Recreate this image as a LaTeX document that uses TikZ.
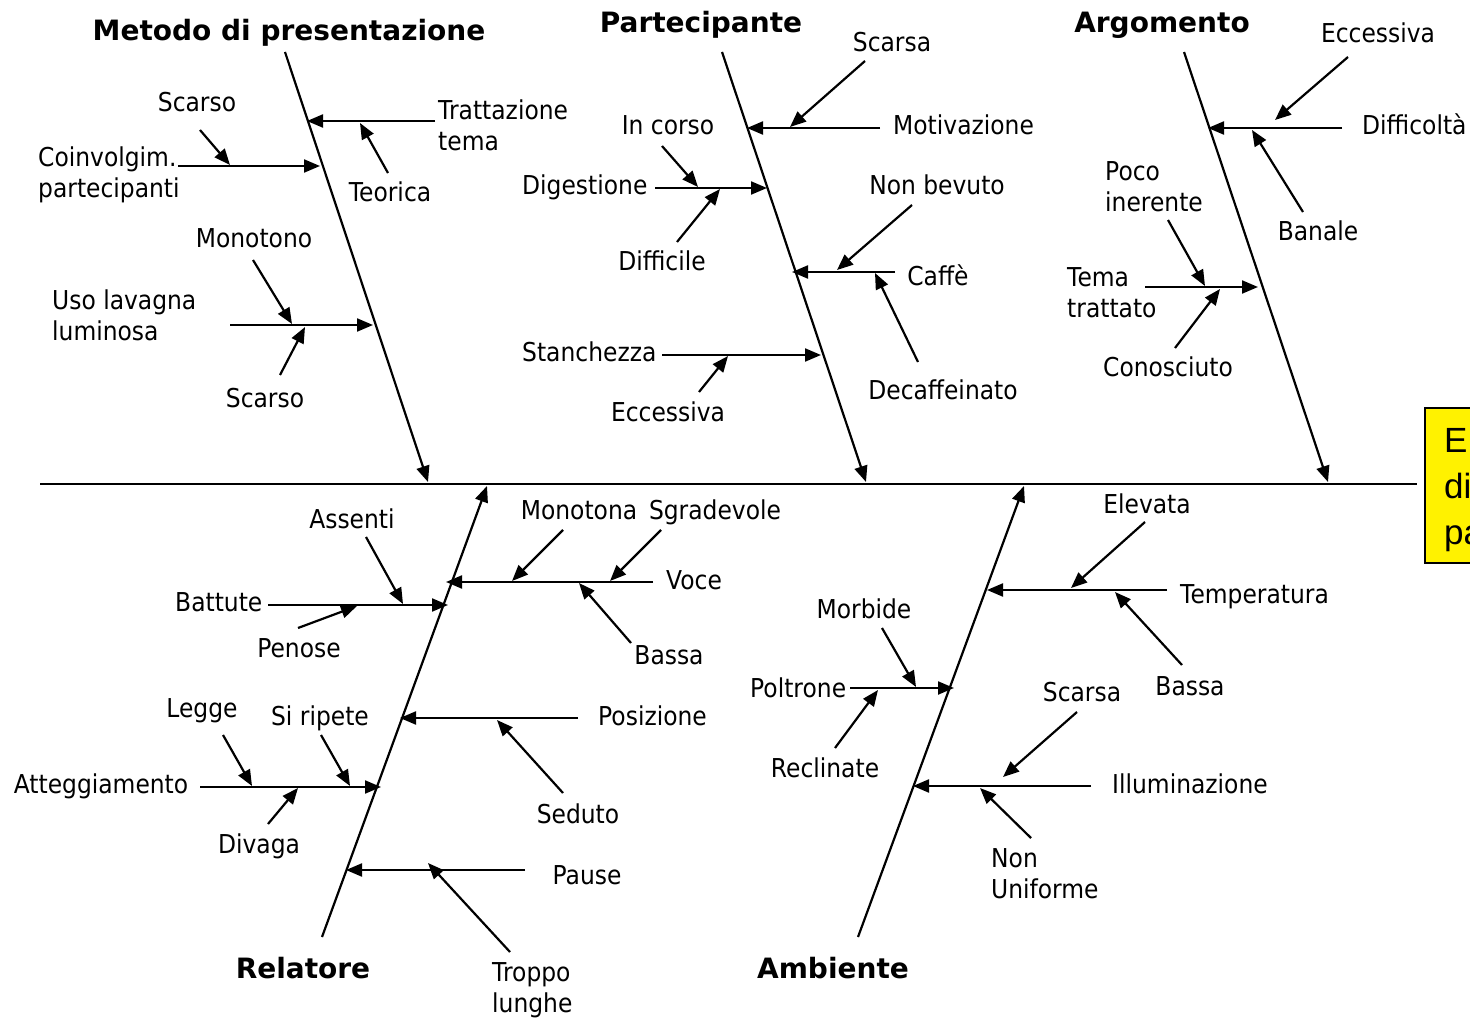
\documentclass[tikz,border=0pt]{standalone}
\usepackage{fontspec}
\setmainfont{DejaVu Sans}[FakeStretch=0.9]
\newfontfamily\headfont{DejaVu Sans}
\newfontfamily\boxfont{Liberation Sans}
\usetikzlibrary{arrows.meta}

\tikzset{
  lbl/.style={font=\fontsize{26}{31}\selectfont, inner sep=0pt},
  head/.style={font=\headfont\bfseries\fontsize{28}{32}\selectfont, inner sep=0pt},
  spine/.style={line width=2.2pt},
  bone/.style={line width=2.2pt, -{Triangle[length=16pt,width=13pt]}},
  arr/.style={line width=2.2pt, -{Triangle[length=16pt,width=13pt]}},
  effect/.style={fill=yellow, draw=black, line width=1.5pt},
  efftext/.style={font=\boxfont\fontsize{35}{46}\selectfont, inner sep=0pt, align=left},
}

\begin{document}
\begin{tikzpicture}[x=1pt, y=-1pt]
\useasboundingbox (0,0) rectangle (1470,1024);
\clip (0,0) rectangle (1470,1024);
\fill[white] (0,0) rectangle (1470,1024);

% ---------- effect box and main spine ----------
\draw[effect] (1425,408) rectangle (1520,563);
\node[efftext, anchor=north west] (effect) at (1444,428) {E\\di\\pa};
\coordinate (sp-l) at (40,484);
\coordinate (sp-r) at (1417,484);
\draw[spine] (sp-l) -- (sp-r);

% ---------- main bones ----------
\coordinate (b1-a) at (285,52);   \coordinate (b1-b) at (428,482);
\coordinate (b2-a) at (722,52);   \coordinate (b2-b) at (866,482);
\coordinate (b3-a) at (1184,52);  \coordinate (b3-b) at (1328,482);
\coordinate (b4-a) at (322,937);  \coordinate (b4-b) at (487,486);
\coordinate (b5-a) at (858,937);  \coordinate (b5-b) at (1024,486);
\draw[bone] (b1-a) -- (b1-b);
\draw[bone] (b2-a) -- (b2-b);
\draw[bone] (b3-a) -- (b3-b);
\draw[bone] (b4-a) -- (b4-b);
\draw[bone] (b5-a) -- (b5-b);

% ---------- category titles ----------
\node[head, anchor=base] (t-metodo) at (289,41) {Metodo di presentazione};
\node[head, anchor=base] (t-part)   at (701,33) {Partecipante};
\node[head, anchor=base] (t-arg)    at (1162,33) {Argomento};
\node[head, anchor=base] (t-rel)    at (303,978) {Relatore};
\node[head, anchor=base] (t-amb)    at (833,978) {Ambiente};

% ---------- Metodo di presentazione ----------
\node[lbl, anchor=north west, align=left] (l-tratt) at (438,100) {Trattazione\\tema};
\node[lbl, anchor=base] (l-teorica) at (390,202) {Teorica};
\node[lbl, anchor=base] (l-scarso1) at (197,112) {Scarso};
\node[lbl, anchor=north west, align=left] (l-coinv) at (38,147) {Coinvolgim.\\partecipanti};
\node[lbl, anchor=base] (l-monotono) at (254,248) {Monotono};
\node[lbl, anchor=north west, align=left] (l-uso) at (52,290) {Uso lavagna\\luminosa};
\node[lbl, anchor=base] (l-scarso2) at (265,407) {Scarso};

\coordinate (tratt-s) at (435,121);  \coordinate (tratt-t) at (307,121);
\coordinate (coinv-s) at (178,166);  \coordinate (coinv-t) at (320,166);
\coordinate (uso-s) at (230,325);    \coordinate (uso-t) at (373,325);
\coordinate (teor-s) at (388,173);   \coordinate (teor-t) at (360,123);
\coordinate (sc1-s) at (200,130);    \coordinate (sc1-t) at (230,165);
\coordinate (mono-s) at (253,260);   \coordinate (mono-t) at (292,324);
\coordinate (sc2-s) at (280,375);    \coordinate (sc2-t) at (305,327);
\draw[arr] (tratt-s) -- (tratt-t);
\draw[arr] (coinv-s) -- (coinv-t);
\draw[arr] (uso-s) -- (uso-t);
\draw[arr] (teor-s) -- (teor-t);
\draw[arr] (sc1-s) -- (sc1-t);
\draw[arr] (mono-s) -- (mono-t);
\draw[arr] (sc2-s) -- (sc2-t);

% ---------- Partecipante ----------
\node[lbl, anchor=base] (l-scarsa1) at (892,52) {Scarsa};
\node[lbl, anchor=base west] (l-motiv) at (893,135) {Motivazione};
\node[lbl, anchor=base] (l-incorso) at (668,135) {In corso};
\node[lbl, anchor=base west] (l-dig) at (522,195) {Digestione};
\node[lbl, anchor=base] (l-diff) at (662,271) {Difficile};
\node[lbl, anchor=base] (l-nonbev) at (937,195) {Non bevuto};
\node[lbl, anchor=base] (l-caffe) at (938,286) {Caffè};
\node[lbl, anchor=base] (l-decaf) at (943,399) {Decaffeinato};
\node[lbl, anchor=base west] (l-stanc) at (522,362) {Stanchezza};
\node[lbl, anchor=base] (l-ecc1) at (668,421) {Eccessiva};

\coordinate (motiv-s) at (880,128);  \coordinate (motiv-t) at (747,128);
\coordinate (dig-s) at (655,188);    \coordinate (dig-t) at (767,188);
\coordinate (caffe-s) at (895,272);  \coordinate (caffe-t) at (792,272);
\coordinate (stanc-s) at (662,355);  \coordinate (stanc-t) at (821,355);
\coordinate (scs1-s) at (865,61);    \coordinate (scs1-t) at (790,127);
\coordinate (inc-s) at (662,146);    \coordinate (inc-t) at (698,187);
\coordinate (dif-s) at (677,242);    \coordinate (dif-t) at (720,189);
\coordinate (nonb-s) at (912,205);   \coordinate (nonb-t) at (837,270);
\coordinate (deca-s) at (918,362);   \coordinate (deca-t) at (875,273);
\coordinate (ecc1-s) at (699,392);   \coordinate (ecc1-t) at (728,356);
\draw[arr] (motiv-s) -- (motiv-t);
\draw[arr] (dig-s) -- (dig-t);
\draw[arr] (caffe-s) -- (caffe-t);
\draw[arr] (stanc-s) -- (stanc-t);
\draw[arr] (scs1-s) -- (scs1-t);
\draw[arr] (inc-s) -- (inc-t);
\draw[arr] (dif-s) -- (dif-t);
\draw[arr] (nonb-s) -- (nonb-t);
\draw[arr] (deca-s) -- (deca-t);
\draw[arr] (ecc1-s) -- (ecc1-t);

% ---------- Argomento ----------
\node[lbl, anchor=base] (l-ecc2) at (1378,43) {Eccessiva};
\node[lbl, anchor=base west] (l-diffic) at (1362,135) {Difficoltà};
\node[lbl, anchor=base] (l-banale) at (1318,241) {Banale};
\node[lbl, anchor=north west, align=left] (l-poco) at (1105,161) {Poco\\inerente};
\node[lbl, anchor=north west, align=left] (l-tema) at (1067,267) {Tema\\trattato};
\node[lbl, anchor=base] (l-conosc) at (1168,377) {Conosciuto};

\coordinate (diffic-s) at (1342,128); \coordinate (diffic-t) at (1208,128);
\coordinate (tema-s) at (1145,287);   \coordinate (tema-t) at (1258,287);
\coordinate (ecc2-s) at (1348,57);    \coordinate (ecc2-t) at (1275,120);
\coordinate (ban-s) at (1303,212);    \coordinate (ban-t) at (1252,130);
\coordinate (poco-s) at (1168,220);   \coordinate (poco-t) at (1205,286);
\coordinate (con-s) at (1175,348);    \coordinate (con-t) at (1220,289);
\draw[arr] (diffic-s) -- (diffic-t);
\draw[arr] (tema-s) -- (tema-t);
\draw[arr] (ecc2-s) -- (ecc2-t);
\draw[arr] (ban-s) -- (ban-t);
\draw[arr] (poco-s) -- (poco-t);
\draw[arr] (con-s) -- (con-t);

% ---------- Relatore ----------
\node[lbl, anchor=base] (l-assenti) at (352,528) {Assenti};
\node[lbl, anchor=base] (l-monotona) at (579,519) {Monotona};
\node[lbl, anchor=base] (l-sgrad) at (715,519) {Sgradevole};
\node[lbl, anchor=base] (l-voce) at (694,589) {Voce};
\node[lbl, anchor=base west] (l-battute) at (175,611) {Battute};
\node[lbl, anchor=base] (l-penose) at (299,657) {Penose};
\node[lbl, anchor=base] (l-bassa1) at (669,664) {Bassa};
\node[lbl, anchor=base] (l-legge) at (202,717) {Legge};
\node[lbl, anchor=base] (l-siripete) at (320,725) {Si ripete};
\node[lbl, anchor=base west] (l-posiz) at (598,725) {Posizione};
\node[lbl, anchor=base] (l-attegg) at (101,793) {Atteggiamento};
\node[lbl, anchor=base] (l-seduto) at (578,823) {Seduto};
\node[lbl, anchor=base] (l-divaga) at (259,853) {Divaga};
\node[lbl, anchor=base] (l-pause) at (587,884) {Pause};
\node[lbl, anchor=north west, align=left] (l-troppo) at (492,962) {Troppo\\lunghe};

\coordinate (voce-s) at (653,582);   \coordinate (voce-t) at (446,582);
\coordinate (batt-s) at (268,605);   \coordinate (batt-t) at (448,605);
\coordinate (posiz-s) at (578,718);  \coordinate (posiz-t) at (400,718);
\coordinate (att-s) at (200,787);    \coordinate (att-t) at (381,787);
\coordinate (pause-s) at (525,870);  \coordinate (pause-t) at (346,870);
\coordinate (mona-s) at (563,530);   \coordinate (mona-t) at (512,581);
\coordinate (sgr-s) at (661,530);    \coordinate (sgr-t) at (610,581);
\coordinate (bas1-s) at (631,643);   \coordinate (bas1-t) at (579,583);
\coordinate (ass-s) at (366,537);    \coordinate (ass-t) at (403,604);
\coordinate (pen-s) at (298,628);    \coordinate (pen-t) at (357,606);
\coordinate (sed-s) at (563,793);    \coordinate (sed-t) at (497,720);
\coordinate (leg-s) at (223,735);    \coordinate (leg-t) at (252,786);
\coordinate (sir-s) at (321,735);    \coordinate (sir-t) at (350,786);
\coordinate (div-s) at (268,824);    \coordinate (div-t) at (298,788);
\coordinate (tro-s) at (510,952);    \coordinate (tro-t) at (428,863);
\draw[arr] (voce-s) -- (voce-t);
\draw[arr] (batt-s) -- (batt-t);
\draw[arr] (posiz-s) -- (posiz-t);
\draw[arr] (att-s) -- (att-t);
\draw[arr] (pause-s) -- (pause-t);
\draw[arr] (mona-s) -- (mona-t);
\draw[arr] (sgr-s) -- (sgr-t);
\draw[arr] (bas1-s) -- (bas1-t);
\draw[arr] (ass-s) -- (ass-t);
\draw[arr] (pen-s) -- (pen-t);
\draw[arr] (sed-s) -- (sed-t);
\draw[arr] (leg-s) -- (leg-t);
\draw[arr] (sir-s) -- (sir-t);
\draw[arr] (div-s) -- (div-t);
\draw[arr] (tro-s) -- (tro-t);

% ---------- Ambiente ----------
\node[lbl, anchor=base] (l-elevata) at (1147,513) {Elevata};
\node[lbl, anchor=base west] (l-temp) at (1180,603) {Temperatura};
\node[lbl, anchor=base] (l-morbide) at (864,618) {Morbide};
\node[lbl, anchor=base] (l-bassa2) at (1190,695) {Bassa};
\node[lbl, anchor=base west] (l-poltrone) at (750,697) {Poltrone};
\node[lbl, anchor=base] (l-scarsa2) at (1082,701) {Scarsa};
\node[lbl, anchor=base] (l-reclin) at (825,777) {Reclinate};
\node[lbl, anchor=base west] (l-illum) at (1112,793) {Illuminazione};
\node[lbl, anchor=north west, align=left] (l-nonunif) at (991,848) {Non\\Uniforme};

\coordinate (temp-s) at (1167,590);  \coordinate (temp-t) at (987,590);
\coordinate (polt-s) at (850,688);   \coordinate (polt-t) at (954,688);
\coordinate (illu-s) at (1091,786);  \coordinate (illu-t) at (913,786);
\coordinate (elev-s) at (1145,522);  \coordinate (elev-t) at (1071,588);
\coordinate (bas2-s) at (1182,665);  \coordinate (bas2-t) at (1115,592);
\coordinate (morb-s) at (882,628);   \coordinate (morb-t) at (916,687);
\coordinate (recl-s) at (835,748);   \coordinate (recl-t) at (878,690);
\coordinate (scs2-s) at (1077,712);  \coordinate (scs2-t) at (1003,777);
\coordinate (nonu-s) at (1031,838);  \coordinate (nonu-t) at (980,788);
\draw[arr] (temp-s) -- (temp-t);
\draw[arr] (polt-s) -- (polt-t);
\draw[arr] (illu-s) -- (illu-t);
\draw[arr] (elev-s) -- (elev-t);
\draw[arr] (bas2-s) -- (bas2-t);
\draw[arr] (morb-s) -- (morb-t);
\draw[arr] (recl-s) -- (recl-t);
\draw[arr] (scs2-s) -- (scs2-t);
\draw[arr] (nonu-s) -- (nonu-t);
\end{tikzpicture}
\end{document}
